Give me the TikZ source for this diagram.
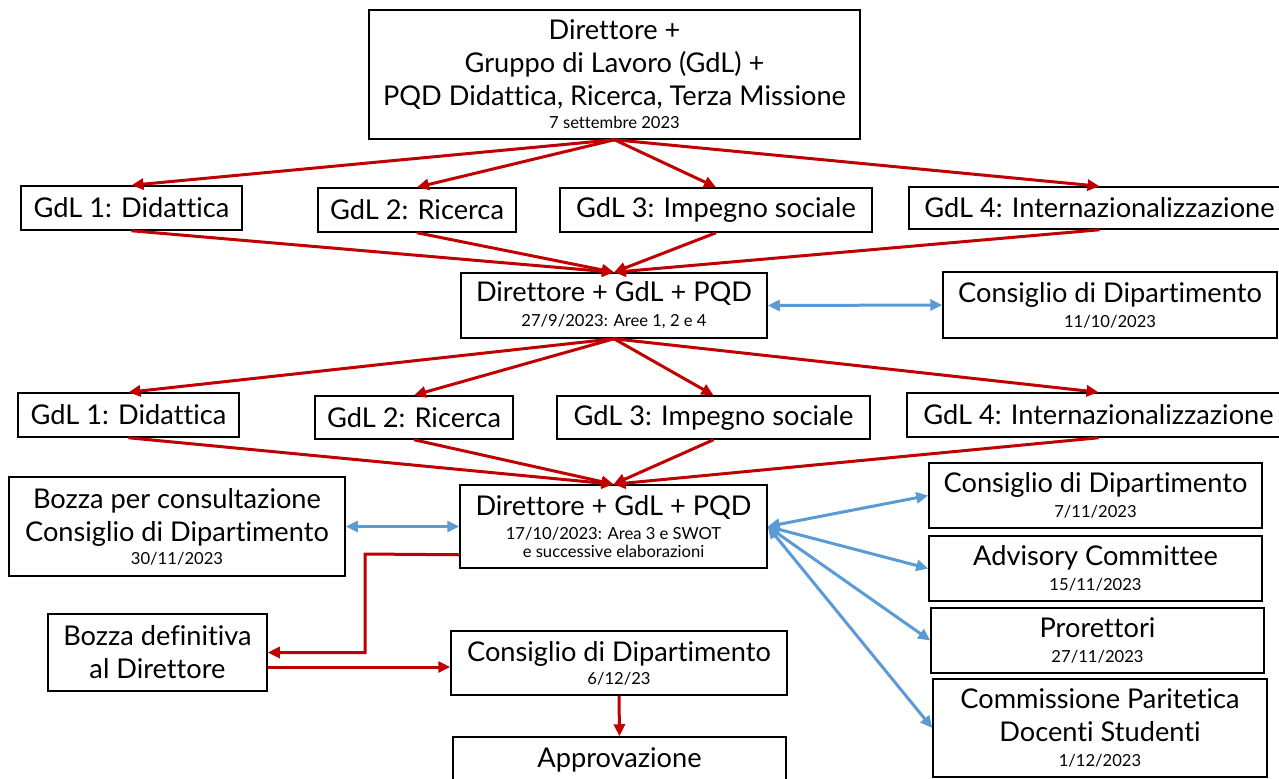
\documentclass[tikz,border=0pt]{standalone}
\usepackage{fontspec}
\setmainfont{Lato}[Ligatures=NoCommon]
\usepackage{xcolor}
\usetikzlibrary{positioning,arrows.meta,calc}
\definecolor{pptred}{HTML}{C00000}
\definecolor{pptblue}{HTML}{5B9BD5}
\newcommand{\datum}[1]{{\fontsize{8.3}{10}\selectfont #1}}

\begin{document}
\begin{tikzpicture}[
  x=0.5pt, y=-0.5pt,
  every node/.style={font=\fontsize{13.6}{16.5}\selectfont},
  box/.style={draw, line width=0.75pt, align=center, inner sep=0pt},
  redarr/.style={-{Triangle[length=6pt, width=5.5pt]}, line width=1.5pt, pptred},
  bluearr/.style={{Triangle[length=6pt, width=5.5pt]}-{Triangle[length=6pt, width=5.5pt]},
                  line width=1.5pt, pptblue},
]
  \useasboundingbox (0,0) rectangle (1279,778);

  % Start
  \node[box, minimum width=245.5pt, minimum height=64.5pt] (top) at (614.5,74.5)
    {Direttore +\\ Gruppo di Lavoro (GdL) +\\ PQD Didattica, Ricerca, Terza Missione\\[-5pt]
     \datum{7 settembre 2023}};

  % First round of working groups
  \node[box, minimum width=110.5pt, minimum height=22pt] (a1) at (131.5,208) {GdL 1: Didattica};
  \node[box, minimum width=99pt,    minimum height=22pt] (a2) at (417,210)   {GdL 2: Ricerca};
  \node[box, minimum width=156pt,   minimum height=22pt] (a3) at (716,210)   {GdL 3: Impegno sociale};
  \node[box, minimum width=190.5pt, minimum height=21pt] (a4) at (1099.5,208) {GdL 4: Internazionalizzazione};

  \node[box, minimum width=153pt, minimum height=32.5pt] (m1) at (614,305.5)
    {Direttore + GdL + PQD\\[-4pt] \datum{27/9/2023: Aree 1, 2 e 4}};
  \node[box, minimum width=167pt, minimum height=33pt] (cd1) at (1110,305)
    {Consiglio di Dipartimento\\[-4pt] \datum{11/10/2023}};

  % Second round of working groups
  \node[box, minimum width=110.5pt, minimum height=22pt]   (b1) at (128.5,415)  {GdL 1: Didattica};
  \node[box, minimum width=99pt,    minimum height=21.5pt] (b2) at (414,417.5)  {GdL 2: Ricerca};
  \node[box, minimum width=156.5pt, minimum height=21.5pt] (b3) at (713.5,417.5) {GdL 3: Impegno sociale};
  \node[box, minimum width=191.5pt, minimum height=22pt]   (b4) at (1098.5,415) {GdL 4: Internazionalizzazione};

  \node[box, minimum width=153.5pt, minimum height=41.5pt] (m2) at (613.5,526.5)
    {Direttore + GdL + PQD\\[-4.5pt] \datum{17/10/2023: Area 3 e SWOT}\\[-7.5pt]
     \datum{e successive elaborazioni}};

  % Consultations
  \node[box, minimum width=168pt, minimum height=49.5pt] (bz1) at (177,526.5)
    {Bozza per consultazione\\ Consiglio di Dipartimento\\[-5pt] \datum{30/11/2023}};
  \node[box, minimum width=166.5pt, minimum height=32.5pt] (cd2) at (1095.5,495.5)
    {Consiglio di Dipartimento\\[-4pt] \datum{7/11/2023}};
  \node[box, minimum width=166.5pt, minimum height=32.5pt] (adv) at (1095.5,568.5)
    {Advisory Committee\\[-4pt] \datum{15/11/2023}};
  \node[box, minimum width=166.5pt, minimum height=32.5pt] (pro) at (1097.5,640.5)
    {Prorettori\\[-4pt] \datum{27/11/2023}};
  \node[box, minimum width=167pt, minimum height=49pt] (cps) at (1100,728)
    {Commissione Paritetica\\ Docenti Studenti\\[-4pt] \datum{1/12/2023}};

  % Final steps
  \node[box, minimum width=109.5pt, minimum height=38.5pt] (bz2) at (157.5,652.5)
    {Bozza definitiva\\ al Direttore};
  \node[box, minimum width=168pt, minimum height=32pt] (cd3) at (619,663)
    {Consiglio di Dipartimento\\[-5pt] \datum{6/12/23}};
  \node[box, minimum width=166.5pt, minimum height=23pt] (appr) at (619.5,760)
    {Approvazione};

  % Red flow
  \foreach \g in {a1,a2,a3,a4} {
    \draw[redarr] (top.south) -- (\g.north);
    \draw[redarr] (\g.south) -- (m1.north);
  }
  \foreach \g in {b1,b2,b3,b4} {
    \draw[redarr] (m1.south) -- (\g.north);
    \draw[redarr] (\g.south) -- (m2.north);
  }
  \coordinate (m2out) at ($(m2.south west)+(0,-14)$);
  \coordinate (knee) at (365,554);
  \draw[redarr] (m2out) -- (knee) |- (bz2.east);
  \draw[redarr] ($(bz2.east)+(0,14.5)$) -- ($(cd3.west)+(0,4)$);
  \draw[redarr] (cd3.south) -- (appr.north);

  % Blue consultations
  \draw[bluearr] (m1.east) -- (cd1.west);
  \draw[bluearr] (bz1.east) -- (m2.west);
  \foreach \c in {cd2,adv,pro,cps} {
    \draw[bluearr] (m2.east) -- (\c.west);
  }
\end{tikzpicture}
\end{document}
